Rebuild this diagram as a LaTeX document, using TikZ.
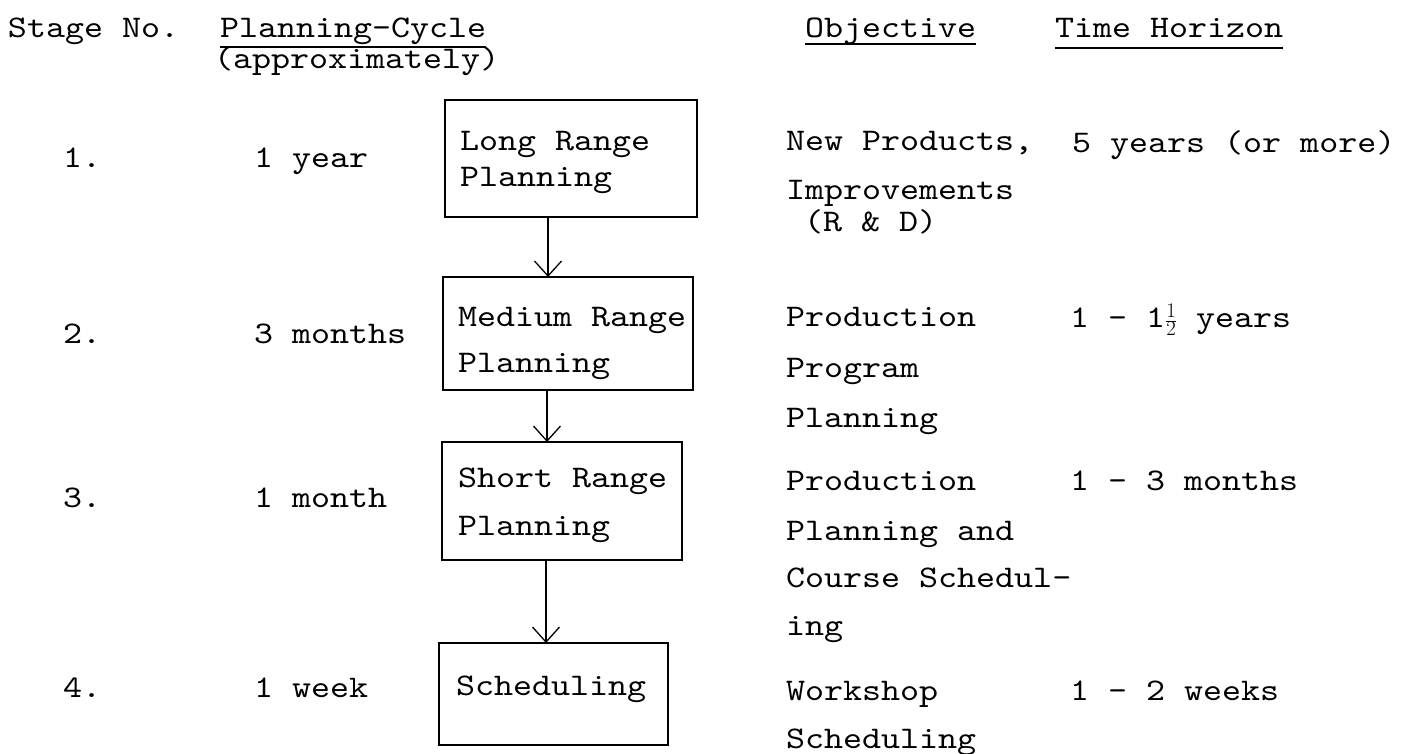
\documentclass[tikz,border=0pt]{standalone}
\usepackage{fontspec}
\newfontfamily\tw{lmmono10-regular.otf}[FakeStretch=1.15]
\usetikzlibrary{arrows.meta}
\tikzset{
  txt/.style={anchor=base west, inner sep=0pt, outer sep=0pt,
    font=\tw\fontsize{31.5}{38}\selectfont},
  boxnode/.style={draw, line width=1.6pt, inner sep=0pt, outer sep=0pt},
  flow/.style={line width=1.3pt, -{Straight Barb[length=15pt,width=27pt]}},
  uline/.style={line width=1.5pt},
}
\begin{document}
\begin{tikzpicture}[x=1pt, y=-1pt]
\useasboundingbox (0,0) rectangle (1412,753);
\fill[white] (0,0) rectangle (1412,753);

% headers
\node[txt] (hstage) at (8,37) {Stage No.};
\node[txt] (hcycle) at (220,37) {Planning-Cycle};
\node[txt] (happrox) at (214,68) {(approximately)};
\node[txt] (hobj) at (805,37) {Objective};
\node[txt] (htime) at (1055,37) {Time Horizon};
\draw[uline] ([yshift=-10pt]hcycle.base west) -- ([yshift=-10pt]hcycle.base east);
\draw[uline] ([yshift=-7pt]hobj.base west) -- ([yshift=-7pt]hobj.base east);
\draw[uline] ([yshift=-11pt]htime.base west) -- ([yshift=-11pt]htime.base east);

% stage numbers and cycles
\node[txt] (s1) at (63,167) {1.};
\node[txt] (s2) at (63,343) {2.};
\node[txt] (s3) at (63,507) {3.};
\node[txt] (s4) at (63,697) {4.};
\node[txt] (c1) at (254,167) {1 year};
\node[txt] (c2) at (254,343) {3 months};
\node[txt] (c3) at (254,507) {1 month};
\node[txt] (c4) at (254,697) {1 week};

% boxes
\node[boxnode, minimum width=252pt, minimum height=117pt] (b1) at (571,158.5) {};
\node[boxnode, minimum width=250pt, minimum height=113pt] (b2) at (568,333.5) {};
\node[boxnode, minimum width=240pt, minimum height=118pt] (b3) at (562,501) {};
\node[boxnode, minimum width=229pt, minimum height=102pt] (b4) at (553.5,694) {};

\node[txt] (b1a) at (460,150) {Long Range};
\node[txt] (b1b) at (460,186) {Planning};
\node[txt] (b2a) at (458,326) {Medium Range};
\node[txt] (b2b) at (458,372) {Planning};
\node[txt] (b3a) at (458,487) {Short Range};
\node[txt] (b3b) at (458,535) {Planning};
\node[txt] (b4a) at (456,695) {Scheduling};

% arrows
\coordinate (x1) at (548,0);
\coordinate (x2) at (547,0);
\coordinate (x3) at (546,0);
\draw[flow] (b1.south -| x1) -- (b2.north -| x1);
\draw[flow] (b2.south -| x2) -- (b3.north -| x2);
\draw[flow] (b3.south -| x3) -- (b4.north -| x3);

% objectives
\node[txt] (o1a) at (786,150) {New Products,};
\node[txt] (o1b) at (786,199) {Improvements};
\node[txt] (o1c) at (804,231) {(R \& D)};
\node[txt] (o2a) at (786,326) {Production};
\node[txt] (o2b) at (786,377) {Program};
\node[txt] (o2c) at (786,427) {Planning};
\node[txt] (o3a) at (786,490) {Production};
\node[txt] (o3b) at (786,540) {Planning and};
\node[txt] (o3c) at (786,587) {Course Schedul-};
\node[txt] (o3d) at (786,635) {ing};
\node[txt] (o4a) at (786,700) {Workshop};
\node[txt] (o4b) at (786,748) {Scheduling};

% time horizons
\node[txt] (t1) at (1072,152) {5 years (or more)};
\node[txt] (t2) at (1070,327) {1 - 1$\frac{1}{2}$ years};
\node[txt] (t3) at (1070,490) {1 - 3 months};
\node[txt] (t4) at (1070,700) {1 - 2 weeks};
\end{tikzpicture}
\end{document}
